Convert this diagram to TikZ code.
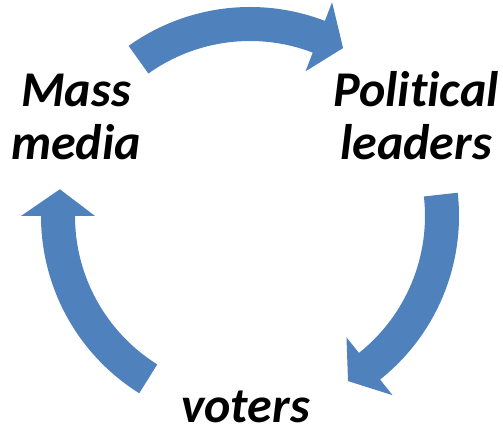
\documentclass[tikz,border=0pt]{standalone}
\usepackage{fontspec}
\setmainfont{Carlito}[Ligatures=NoCommon]
\definecolor{cycleblue}{HTML}{4F81BD}
\begin{document}
\begin{tikzpicture}[x=1pt, y=1pt,
        actor/.style={font=\fontsize{50}{53}\selectfont\bfseries\itshape, align=center, inner sep=0pt}]
    \useasboundingbox (-250,-219) rectangle (253,216);

    % cycle arrows: tail angle / head base / tip
    \foreach \s/\b/\t in {125.5/69/61, 6.4/-51.5/-59.3, 238/180/172}
        \fill[cycleblue] (\s:209pt) arc[start angle=\s, end angle=\b, radius=209pt]
            -- (\b:229pt) -- (\t:192pt) -- (\b:155pt) -- (\b:175pt)
            arc[start angle=\b, end angle=\s, radius=175pt] -- cycle;

    \node[actor, anchor=base] (media) at (-174, 56) {Mass\\media};
    \node[actor, anchor=base] (leaders) at (166, 56) {Political\\leaders};
    \node[actor, anchor=base] (voters) at (-4.5, -207) {voters};
\end{tikzpicture}
\end{document}
